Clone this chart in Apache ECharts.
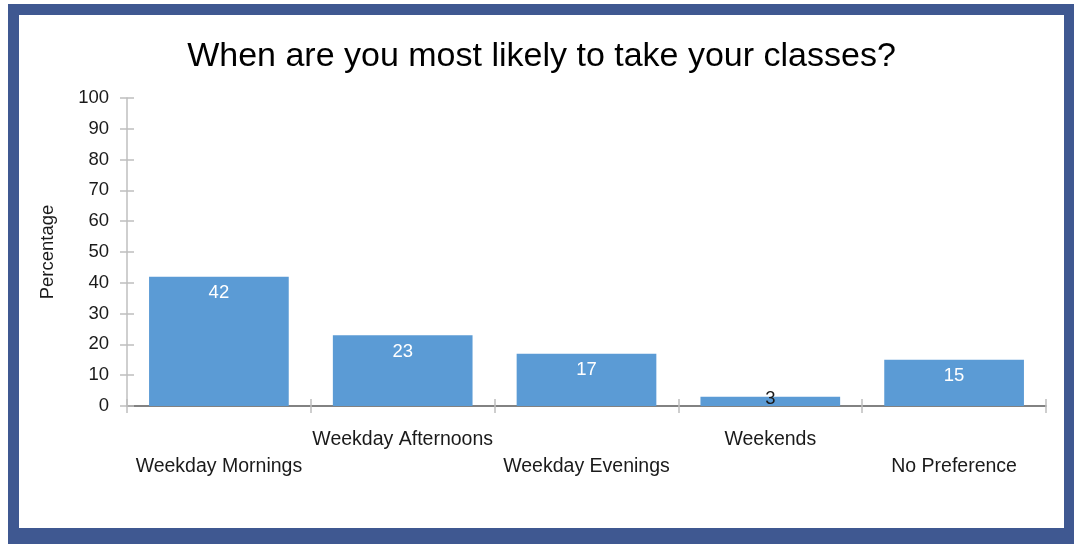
<!DOCTYPE html>
<html>
<head>
<meta charset="utf-8">
<script src="https://cdn.jsdelivr.net/npm/echarts@6/dist/echarts.min.js"></script>
<style>
  html, body { margin: 0; padding: 0; background: #ffffff; width: 1074px; height: 544px; overflow: hidden; }
  #frame { position: absolute; left: 8px; top: 4px; width: 1077px; height: 551px; background: #3F5891; }
  #chart { position: absolute; left: 19px; top: 15px; width: 1045px; height: 513px; background: #ffffff; }
</style>
</head>
<body>
<div id="frame"></div>
<div id="chart"></div>
<script>
// Survey: preferred class times (percentage of respondents)
const titleText = 'When are you most likely to take your classes?';
const categories = ['Weekday Mornings', 'Weekday Afternoons', 'Weekday Evenings', 'Weekends', 'No Preference'];
const percentages = [42, 23, 17, 3, 15];
const yMin = 0, yMax = 100, yStep = 10;

const FONT = '"Liberation Sans", Arial, sans-serif';
const TEXT = '#1a1a1a';
const GRIDLINE = '#BFBFBF';
const BAR = '#5B9BD5';

const chart = echarts.init(document.getElementById('chart'), null, { renderer: 'canvas' });

const barData = percentages.map(function (v) {
  // values too small to hold a label inside get a dark label centred on the bar
  if (v < 8) {
    return { value: v, label: { position: 'inside', color: TEXT, offset: [0, -2] } };
  }
  return v;
});

const yBase = {
  type: 'value', min: yMin, max: yMax, interval: yStep,
  splitLine: { show: false }
};

chart.setOption({
  animation: false,
  backgroundColor: '#ffffff',
  title: {
    text: titleText, left: 'center', top: 20,
    textStyle: { fontFamily: FONT, fontSize: 34, fontWeight: 'normal', color: '#000000' }
  },
  grid: { left: 108, top: 83, right: 18, bottom: 122, containLabel: false },
  xAxis: [
    {
      type: 'category', data: categories, position: 'bottom',
      axisLine: { show: true, lineStyle: { color: '#595959', width: 1.5 } },
      axisTick: { show: true, alignWithLabel: false, length: 7, lineStyle: { color: GRIDLINE, width: 1.5 } },
      axisLabel: {
        interval: 0, margin: 20, color: TEXT, fontFamily: FONT, fontSize: 19.5, lineHeight: 27,
        // alternate rows so long category names do not collide
        formatter: function (value, index) { return index % 2 === 0 ? '\n' + value : value; }
      }
    },
    {
      type: 'category', data: categories, position: 'bottom',
      axisLine: { show: false },
      axisTick: { show: true, inside: true, length: 7, lineStyle: { color: GRIDLINE, width: 1.5 } },
      axisLabel: { show: false }
    }
  ],
  yAxis: [
    Object.assign({}, yBase, {
      name: 'Percentage', nameLocation: 'middle', nameGap: 70, nameRotate: 90,
      nameTextStyle: { fontFamily: FONT, fontSize: 18.5, color: TEXT },
      axisLine: { show: true, lineStyle: { color: GRIDLINE, width: 1.5 } },
      axisTick: { show: true, length: 7, lineStyle: { color: GRIDLINE, width: 1.5 } },
      axisLabel: { margin: 18, color: TEXT, fontFamily: FONT, fontSize: 18.5 }
    }),
    Object.assign({}, yBase, {
      position: 'left',
      axisLine: { show: false },
      axisTick: { show: true, inside: true, length: 7, lineStyle: { color: GRIDLINE, width: 1.5 } },
      axisLabel: { show: false }
    })
  ],
  series: [{
    type: 'bar', xAxisIndex: 0, yAxisIndex: 0,
    data: barData,
    barCategoryGap: '24%',
    itemStyle: { color: BAR },
    label: {
      show: true, position: 'insideTop', distance: 7,
      color: '#ffffff', fontFamily: FONT, fontSize: 18.5
    }
  }]
});
</script>
</body>
</html>
